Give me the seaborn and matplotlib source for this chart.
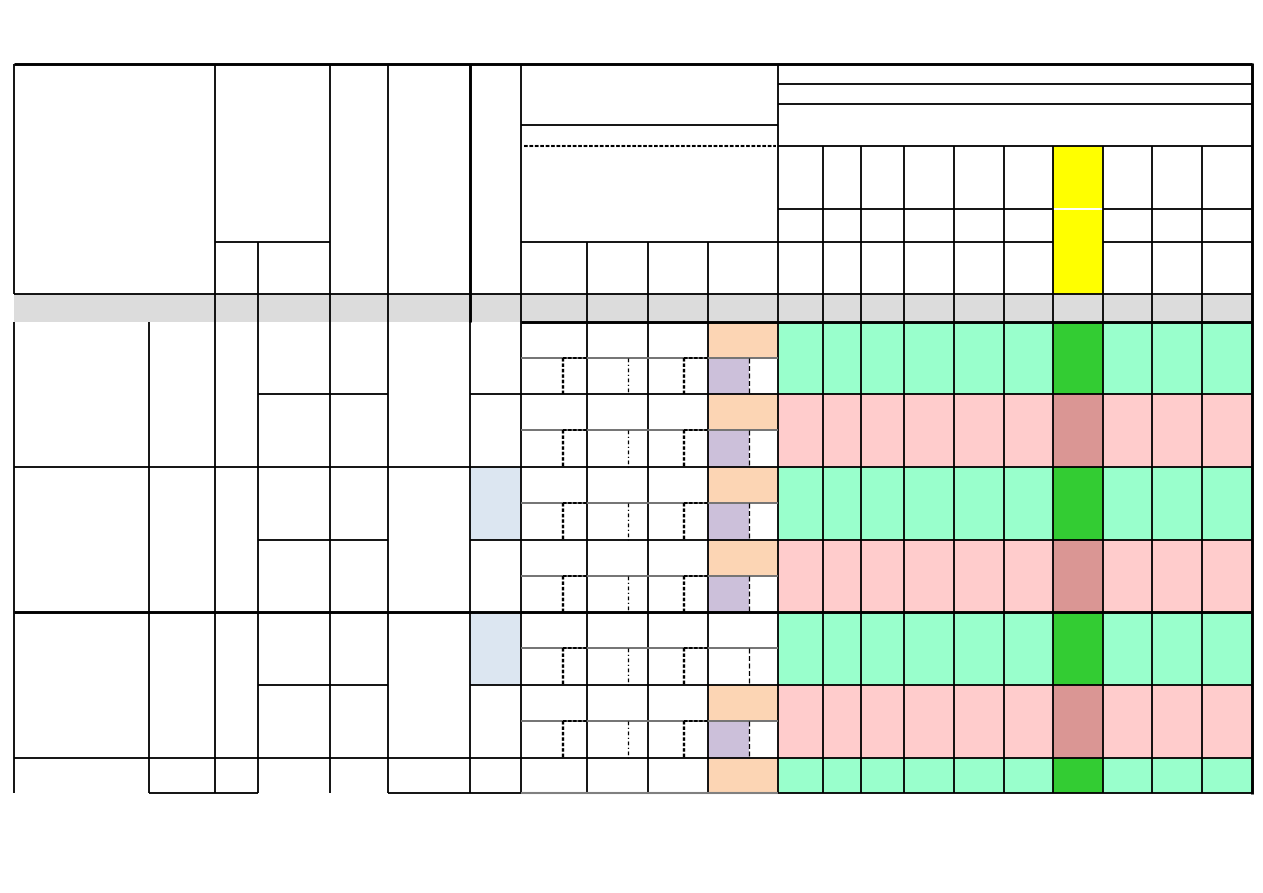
import numpy as np
import matplotlib
matplotlib.use('Agg')
import matplotlib.pyplot as plt
from matplotlib.colors import ListedColormap
import seaborn as sns

# Dados da tabela: não há textos, só o estado (cor) de cada meia-linha
resultado = ['ok', 'ng', 'ok', 'ng', 'ok', 'ng', 'ok']   # verde / rosa
tem_pessego = [1, 1, 1, 1, 0, 1, 1]
tem_lilas = [1, 1, 1, 1, 0, 1, 0]
tem_azul = [0, 0, 1, 0, 1, 0, 0]
col_destaque = 6   # coluna amarela no cabeçalho / mais escura no corpo

# Cores (código -> cor)
cores = ['#ffffff', '#dcdcdc', '#ffff00', '#99ffcc', '#33cc33',
         '#ffcccc', '#da9694', '#fcd5b4', '#ccc0da', '#dce6f1']

# Layout em pixels
W, H = 1263, 893
xs_dir = [778, 823, 861, 904, 954, 1004, 1053, 1103, 1152, 1202, 1252]
ys_corpo = [322, 394, 467, 540, 612, 685, 758, 793]
sub = 36

# Montar a matriz de códigos de cor (um valor por pixel)
codigo = np.zeros((H, W), dtype=int)
codigo[294:322, 14:1252] = 1
c0, c1 = xs_dir[col_destaque], xs_dir[col_destaque + 1]
codigo[146:294, c0:c1] = 2
for i, r in enumerate(resultado):
    y0, y1 = ys_corpo[i], ys_corpo[i + 1]
    meio = min(y0 + sub, y1)
    base, forte = (3, 4) if r == 'ok' else (5, 6)
    codigo[y0:y1, 778:1252] = base
    codigo[y0:y1, c0:c1] = forte
    if tem_pessego[i]:
        codigo[y0:meio, 708:778] = 7
    if tem_lilas[i]:
        codigo[meio:y1, 708:749] = 8
    if tem_azul[i]:
        codigo[y0:y1, 470:521] = 9

sns.set_theme(style='white')
fig = plt.figure(figsize=(W / 100, H / 100), dpi=100)
ax = fig.add_axes([0, 0, 1, 1])
sns.heatmap(codigo, cmap=ListedColormap(cores), vmin=-0.5, vmax=len(cores) - 0.5,
            cbar=False, xticklabels=False, yticklabels=False, ax=ax)
ax.axis('off')

LW = 1.3   # linha normal
LG = 2.1   # linha grossa


def h(y, x0, x1, lw=LW, color='black', ls='-'):
    ax.plot([x0, x1], [y, y], color=color, lw=lw, ls=ls, solid_capstyle='butt')


def v(x, y0, y1, lw=LW, color='black', ls='-'):
    ax.plot([x, x], [y0, y1], color=color, lw=lw, ls=ls, solid_capstyle='butt')


pontilhado = (0, (1.8, 0.8))

# Cabeçalho
h(64, 14, 1252, LG)
h(84, 778, 1252)
h(104, 778, 1252)
h(125, 521, 778)
h(146, 778, 1252)
h(146, 524, 776, lw=1.5, ls=pontilhado)
h(209, 778, c0)
h(209, c1, 1252)
h(209, c0, c1, lw=1.4, color='white')
h(242, 215, 330)
h(242, 521, c0)
h(242, c1, 1252)
h(294, 14, 1252)
h(322, 521, 1252, LG)

# Verticais
v(14, 64, 294)
v(14, 322, 793)
v(149, 322, 793)
v(215, 64, 793)
v(258, 242, 793)
v(330, 64, 793)
v(388, 64, 793)
v(470, 64, 322, LG)
v(470, 322, 793)
v(521, 64, 793)
for x in (587, 648, 708):
    v(x, 242, 793)
v(778, 64, 793)
for x in xs_dir[1:-1]:
    v(x, 146, 793)
v(1252, 63, 794, LG)

# Horizontais do corpo
for y in ys_corpo[1:-1]:
    if y in (467, 758):
        h(y, 14, 1252)
    elif y == 612:
        h(y, 14, 1252, LG)
    else:
        h(y, 258, 388)
        h(y, 470, 1252)
h(793, 149, 258)
h(793, 388, 521)
h(793, 521, 778, color='#808080', lw=1.5)
h(793, 778, 1252)

# Sub-linhas do bloco do meio
for i in range(6):
    ym = ys_corpo[i] + sub
    yb = ys_corpo[i + 1]
    h(ym, 521, 778, color='#737373', lw=1.4)
    h(ym, 563, 587, lw=1.4, ls=pontilhado)
    h(ym, 684, 708, lw=1.4, ls=pontilhado)
    v(563, ym, yb, lw=1.7, ls=(0, (1.5, 0.8)))
    v(628, ym, yb, lw=0.9, ls=(0, (3, 2, 1, 2)))
    v(684, ym, yb, lw=1.7, ls=(0, (1.5, 0.8)))
    v(749, ym, yb, lw=0.9, ls=(0, (4, 2)))

plt.savefig('out.png', dpi=100)
